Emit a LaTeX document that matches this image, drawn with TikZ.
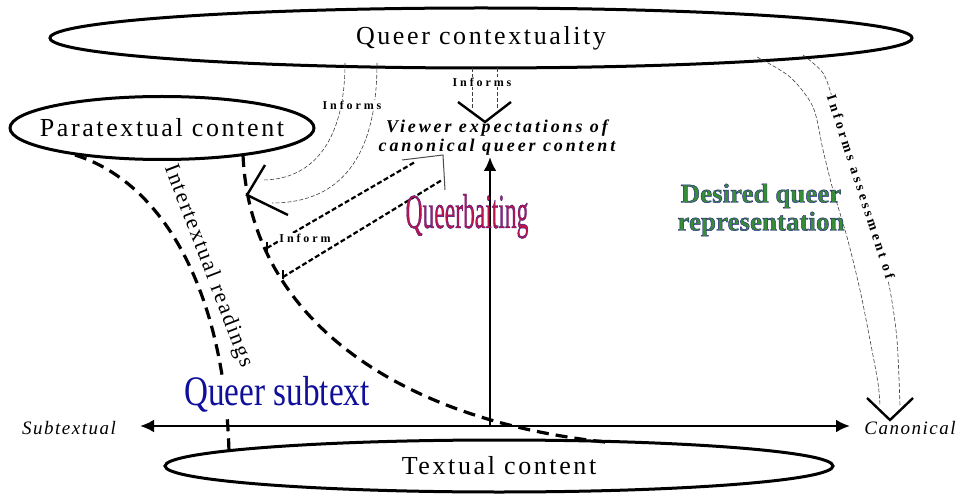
\documentclass[tikz,border=0pt]{standalone}
\usepackage{fontspec}
\setmainfont{Liberation Serif}
\newfontfamily\lsA[LetterSpace=10]{Liberation Serif}
\newfontfamily\lsB[LetterSpace=8]{Liberation Serif}
\newfontfamily\lsC[LetterSpace=16]{Liberation Serif}
\newfontfamily\lsD[LetterSpace=24]{Liberation Serif}
\usetikzlibrary{shapes.geometric,arrows.meta}
\definecolor{qbred}{RGB}{190,20,75}
\definecolor{qsblue}{RGB}{15,15,155}
\definecolor{dqgreen}{RGB}{55,140,55}
\newcommand{\outlineon}{\special{pdf:code q 2 Tr 0.4 w 0.15 0.1 0.55 RG}}
\newcommand{\outlineoff}{\special{pdf:code Q}}
\begin{document}
\begin{tikzpicture}[x=1pt,y=-1pt,
  bubble/.style={ellipse,draw,line width=3pt,inner sep=0pt},
  bigtext/.style={font=\lsA\fontsize{26}{30}\selectfont},
  axistext/.style={font=\lsB\itshape\fontsize{19}{22}\selectfont},
  smalllabel/.style={font=\lsD\bfseries\fontsize{12}{14}\selectfont,fill=white,inner sep=1pt},
  thickdash/.style={line width=3.2pt,dash pattern=on 12pt off 7pt},
  medash/.style={line width=2.2pt,dash pattern=on 5pt off 2.5pt},
  thindash/.style={line width=0.6pt,dash pattern=on 4pt off 2pt,draw=black!75},
  vhead/.style={line width=2.4pt},
  axisline/.style={line width=2.6pt}
]
\useasboundingbox (0,0) rectangle (963,494);

% ellipses
\node[bubble,minimum width=862pt,minimum height=60pt,label={[bigtext,name=ctxlabel]center:Queer contextuality}] (ctx) at (481,38) {};
\node[bubble,minimum width=304pt,minimum height=63pt,label={[bigtext,name=paralabel]center:Paratextual content}] (para) at (162,128) {};
\node[bubble,minimum width=668pt,minimum height=52pt,label={[bigtext,name=textlabel]center:Textual content}] (textual) at (499,466) {};

% axis
\node[axistext] (sub) at (69,428) {Subtextual};
\node[axistext] (can) at (910,428) {Canonical};
\coordinate (axL) at (140,426);
\coordinate (axR) at (850,426);
\coordinate (org) at (490,426);
\draw[axisline,{Latex[length=14pt,width=13pt]}-{Latex[length=14pt,width=13pt]}] (axL) -- (axR);

% viewer expectations
\node[font=\lsC\bfseries\itshape\fontsize{18}{19}\selectfont,align=center,inner sep=0pt] (view) at (497,138) {Viewer expectations of\\canonical queer content};
\coordinate (vtop) at (490,157);
\draw[axisline,-{Latex[length=14pt,width=13pt]}] (org) -- (vtop);

% thick dashed curves
\coordinate (p1) at (75,155);
\coordinate (p1e) at (229,452);
\draw[thickdash] (p1) .. controls (168,184) and (225,300) .. (p1e);
\coordinate (p2) at (243,155);
\coordinate (p2e) at (605,442);
\draw[thickdash] (p2) .. controls (250,320) and (400,420) .. (p2e);

% Queer subtext (white background hides the dashed line)
\node[fill=white,inner sep=1pt,anchor=base,text=qsblue] (qs) at (277,405) {\scalebox{0.79}[1]{\fontsize{42}{46}\selectfont Queer subtext}};

% Intertextual readings
\node[font=\lsB\fontsize{22}{24}\selectfont,rotate=-69] (inter) at (208,266) {Intertextual readings};

% Informs arcs to paratextual line
\coordinate (a1) at (345,63);
\coordinate (a1e) at (262,180);
\coordinate (b1) at (377,63);
\coordinate (b1e) at (272,203);
\draw[thindash] (a1) .. controls (345,142) and (312,180) .. (a1e);
\draw[thindash] (b1) .. controls (377,170) and (330,203) .. (b1e);
\coordinate (hv1) at (247,195);
\draw[vhead] (265,165) -- (hv1) -- (288,215);
\node[smalllabel] (inf1) at (352,105) {Informs};

% Informs down to viewer expectations
\coordinate (c1) at (472,68);
\coordinate (c2) at (497,68);
\draw[thindash] (c1) -- (472,109);
\draw[thindash] (c2) -- (497,109);
\coordinate (hv2) at (485,122);
\draw[vhead] (458,102) -- (hv2) -- (511,102);
\node[smalllabel] (inf2) at (482,82) {Informs};

% Inform double dashed lines
\coordinate (d1) at (267,248);
\coordinate (d1e) at (415,162);
\coordinate (d2) at (283,277);
\coordinate (d2e) at (442,180);
\draw[medash] (d1) -- (d1e);
\draw[medash] (d2) -- (d2e);
\draw[line width=2pt] (267,242) -- (267,254);
\draw[line width=2pt] (283,270) -- (283,279);
\draw[line width=1pt,draw=black!70] (402,160) -- (443,155) -- (445,190);
\node[smalllabel] (inf3) at (305,238) {Inform};

% Informs assessment of
\coordinate (e1) at (757,57);
\coordinate (e2) at (803,55);
\draw[thindash] plot[smooth] coordinates {(e1) (790,77) (813,107) (823,150) (833,190) (847,237) (860,290) (870,340) (878,383) (880,406)};
\draw[thindash] plot[smooth] coordinates {(e2) (823,73) (833,100) (843,133) (853,167) (867,210) (880,250) (890,290) (897,340) (900,406)};
\coordinate (hv3) at (890,420);
\draw[vhead] (867,398) -- (hv3) -- (913,398);
\node[font=\lsD\bfseries\fontsize{14}{16}\selectfont,rotate=-72,fill=white,inner sep=0.5pt] (assess) at (861,187) {Informs assessment of};

% Queerbaiting
\node[anchor=base,inner sep=0pt] (qb) at (467,228) {\scalebox{0.48}[1]{\fontsize{49}{50}\selectfont\color{qbred}\outlineon Queerbaiting\outlineoff}};

% Desired queer representation
\node[font=\bfseries\fontsize{27}{28}\selectfont,align=center,inner sep=0pt,text=dqgreen] (desired) at (761,210) {\outlineon Desired queer\outlineoff\\\outlineon representation\outlineoff};
\end{tikzpicture}
\end{document}
